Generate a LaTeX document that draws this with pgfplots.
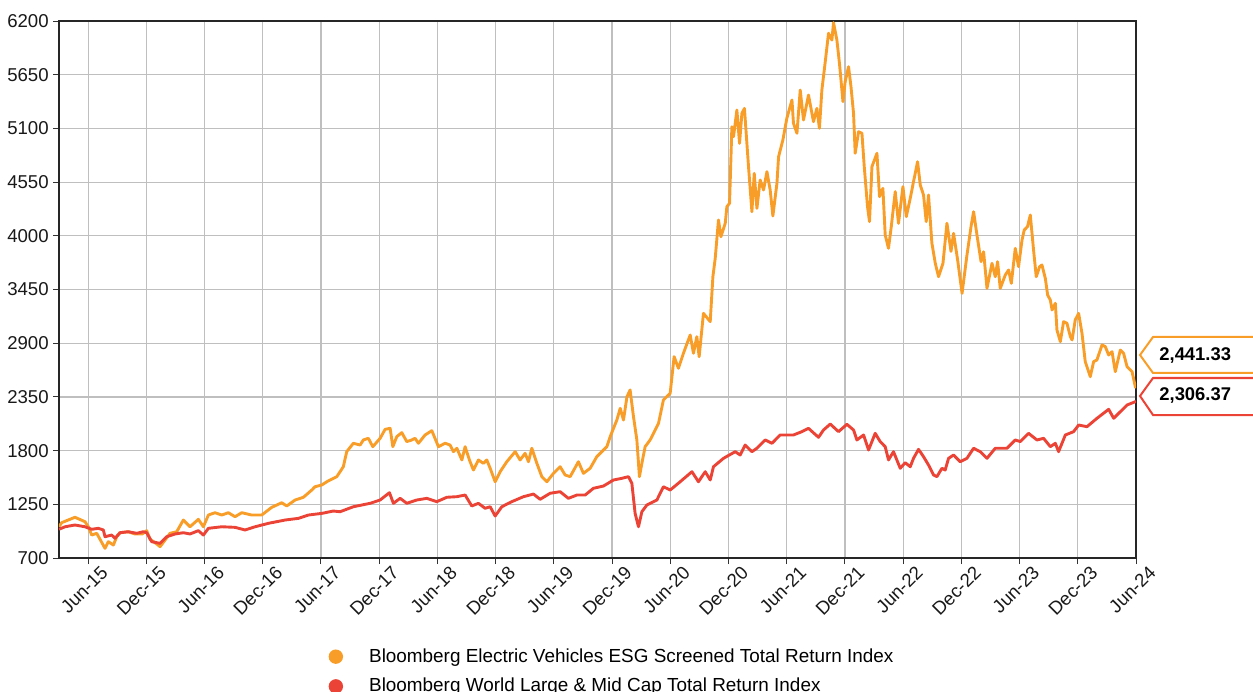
\documentclass[border=0pt]{standalone}
\usepackage{fontspec}
\setmainfont{Liberation Sans}
\usepackage{pgfplots}
\pgfplotsset{compat=1.18}
\definecolor{evorange}{RGB}{248,158,40}
\definecolor{wred}{RGB}{235,68,54}
\begin{document}
\begin{tikzpicture}
\begin{axis}[
  at={(0,0)}, anchor=south west,
  scale only axis, width=538.5pt, height=268.5pt,
  xmin=2015.25, xmax=2024.5, ymin=700, ymax=6200,
  ytick={700,1250,1800,2350,2900,3450,4000,4550,5100,5650,6200},
  xtick={2015.5,2016,2016.5,2017,2017.5,2018,2018.5,2019,2019.5,2020,2020.5,2021,2021.5,2022,2022.5,2023,2023.5,2024,2024.5},
  xticklabels={Jun-15,Dec-15,Jun-16,Dec-16,Jun-17,Dec-17,Jun-18,Dec-18,Jun-19,Dec-19,Jun-20,Dec-20,Jun-21,Dec-21,Jun-22,Dec-22,Jun-23,Dec-23,Jun-24},
  xtick pos=bottom, ytick pos=left,
  /pgf/number format/assume math mode=true,
  /pgf/number format/1000 sep={},
  tick label style={font=\fontsize{9.3pt}{11pt}\selectfont, text=black!90},
  xticklabel style={xshift=9pt, yshift=-2pt, rotate=45, anchor=east, inner sep=1pt},
  yticklabel style={inner sep=2pt},
  tick align=outside, major tick length=3pt,
  tick style={black!80, line width=0.5pt},
  grid=major, major grid style={gray!50, line width=0.6pt},
  axis line style={black!85, line width=0.6pt},
  legend style={draw=none, fill=none, at={(0.25,-0.16)}, anchor=north west,
    font=\fontsize{9.45pt}{11pt}\selectfont, row sep=2.5pt, inner sep=0pt},
  legend cell align=left,
  legend image code/.code={\fill[#1, draw=none] (0.1cm,0cm) circle (3.6pt); \path[draw=none, fill=none] (0,0) -- (17.5pt,0);},
]
\addplot[evorange, line width=1.45pt, line join=round] coordinates {
(2015.250,1020)(2015.273,1062)(2015.387,1117)(2015.473,1072)(2015.502,1020)(2015.531,935)(2015.574,953)(2015.645,799)(2015.674,867)(2015.717,833)(2015.746,918)(2015.774,959)(2015.845,969)(2015.903,946)(2015.966,946)(2016.003,980)(2016.032,892)(2016.075,857)(2016.118,816)(2016.161,884)(2016.204,953)(2016.261,969)(2016.318,1089)(2016.375,1020)(2016.447,1096)(2016.490,1020)(2016.533,1140)(2016.590,1164)(2016.648,1140)(2016.704,1164)(2016.762,1123)(2016.820,1164)(2016.905,1140)(2016.991,1140)(2017.077,1219)(2017.163,1266)(2017.206,1233)(2017.278,1294)(2017.349,1322)(2017.421,1396)(2017.449,1430)(2017.507,1448)(2017.550,1481)(2017.578,1499)(2017.636,1533)(2017.692,1635)(2017.721,1789)(2017.778,1875)(2017.836,1857)(2017.864,1909)(2017.907,1926)(2017.945,1840)(2018.008,1926)(2018.051,2018)(2018.094,2028)(2018.117,1840)(2018.151,1943)(2018.194,1984)(2018.237,1892)(2018.280,1909)(2018.308,1926)(2018.337,1875)(2018.394,1960)(2018.452,2004)(2018.509,1840)(2018.566,1875)(2018.609,1857)(2018.637,1789)(2018.667,1824)(2018.710,1704)(2018.738,1840)(2018.775,1704)(2018.809,1601)(2018.852,1704)(2018.895,1670)(2018.924,1704)(2018.953,1619)(2018.996,1481)(2019.039,1584)(2019.096,1686)(2019.168,1789)(2019.210,1704)(2019.253,1772)(2019.282,1686)(2019.311,1824)(2019.354,1670)(2019.397,1533)(2019.440,1481)(2019.497,1567)(2019.554,1635)(2019.597,1550)(2019.640,1533)(2019.711,1686)(2019.754,1567)(2019.812,1619)(2019.869,1738)(2019.898,1772)(2019.955,1840)(2019.984,1943)(2020.041,2113)(2020.070,2233)(2020.098,2113)(2020.128,2352)(2020.155,2421)(2020.184,2147)(2020.213,1909)(2020.235,1533)(2020.256,1670)(2020.284,1840)(2020.327,1909)(2020.356,1977)(2020.399,2080)(2020.441,2318)(2020.499,2387)(2020.533,2762)(2020.570,2643)(2020.613,2797)(2020.671,2984)(2020.699,2797)(2020.728,2967)(2020.748,2762)(2020.785,3206)(2020.843,3121)(2020.866,3581)(2020.886,3770)(2020.914,4162)(2020.935,3991)(2020.972,4128)(2020.986,4298)(2021.009,4333)(2021.029,5117)(2021.043,5015)(2021.072,5288)(2021.095,4947)(2021.115,5254)(2021.137,5305)(2021.172,4708)(2021.201,4247)(2021.221,4640)(2021.244,4281)(2021.272,4572)(2021.301,4469)(2021.330,4657)(2021.358,4469)(2021.381,4203)(2021.416,4537)(2021.430,4810)(2021.467,4981)(2021.501,5203)(2021.545,5391)(2021.558,5152)(2021.588,5050)(2021.616,5493)(2021.644,5186)(2021.687,5442)(2021.730,5169)(2021.759,5305)(2021.781,5101)(2021.802,5493)(2021.831,5783)(2021.859,6074)(2021.888,6005)(2021.902,6183)(2021.931,6005)(2021.953,5766)(2021.983,5374)(2022.002,5578)(2022.031,5732)(2022.052,5527)(2022.074,5254)(2022.088,4845)(2022.117,5066)(2022.146,5050)(2022.166,4708)(2022.194,4298)(2022.211,4145)(2022.232,4708)(2022.275,4845)(2022.297,4401)(2022.326,4486)(2022.346,4008)(2022.374,3872)(2022.398,4094)(2022.432,4452)(2022.460,4128)(2022.498,4503)(2022.527,4196)(2022.561,4384)(2022.589,4554)(2022.624,4759)(2022.647,4520)(2022.675,4418)(2022.698,4145)(2022.718,4418)(2022.747,3923)(2022.776,3718)(2022.804,3581)(2022.842,3718)(2022.876,4128)(2022.911,3840)(2022.933,4025)(2022.968,3752)(2023.006,3411)(2023.048,3803)(2023.083,4094)(2023.105,4247)(2023.134,4008)(2023.169,3735)(2023.191,3837)(2023.220,3462)(2023.263,3718)(2023.291,3581)(2023.311,3735)(2023.334,3462)(2023.377,3598)(2023.406,3650)(2023.429,3513)(2023.463,3872)(2023.491,3684)(2023.521,3957)(2023.540,4059)(2023.568,4094)(2023.592,4213)(2023.620,3855)(2023.643,3581)(2023.672,3684)(2023.692,3701)(2023.721,3564)(2023.741,3394)(2023.764,3342)(2023.779,3240)(2023.807,3309)(2023.821,3035)(2023.850,2916)(2023.878,3121)(2023.907,3104)(2023.936,2967)(2023.951,2933)(2023.978,3138)(2024.007,3206)(2024.036,3001)(2024.064,2711)(2024.107,2557)(2024.136,2711)(2024.164,2728)(2024.208,2882)(2024.236,2865)(2024.265,2779)(2024.294,2813)(2024.322,2608)(2024.365,2830)(2024.393,2797)(2024.423,2660)(2024.466,2608)(2024.494,2454)(2024.500,2441.33)
};
\addlegendentry{Bloomberg Electric Vehicles ESG Screened Total Return Index}
\addplot[wred, line width=1.45pt, line join=round] coordinates {
(2015.250,994)(2015.302,1020)(2015.387,1038)(2015.473,1020)(2015.531,994)(2015.588,1004)(2015.631,987)(2015.645,918)(2015.703,935)(2015.731,902)(2015.774,959)(2015.845,969)(2015.918,953)(2015.974,969)(2016.003,959)(2016.046,867)(2016.118,850)(2016.175,918)(2016.247,946)(2016.318,959)(2016.375,946)(2016.447,980)(2016.490,935)(2016.533,1004)(2016.648,1020)(2016.762,1014)(2016.848,987)(2016.934,1020)(2017.048,1055)(2017.192,1089)(2017.306,1106)(2017.392,1140)(2017.507,1157)(2017.606,1181)(2017.664,1174)(2017.778,1225)(2017.922,1260)(2018.008,1294)(2018.088,1369)(2018.122,1260)(2018.180,1311)(2018.237,1260)(2018.323,1294)(2018.409,1311)(2018.495,1277)(2018.581,1322)(2018.667,1328)(2018.738,1345)(2018.795,1233)(2018.852,1260)(2018.910,1209)(2018.953,1225)(2018.996,1130)(2019.053,1225)(2019.139,1277)(2019.239,1328)(2019.325,1355)(2019.382,1301)(2019.468,1363)(2019.554,1379)(2019.625,1311)(2019.698,1345)(2019.769,1345)(2019.840,1414)(2019.926,1437)(2020.012,1499)(2020.084,1516)(2020.141,1533)(2020.170,1465)(2020.198,1157)(2020.227,1020)(2020.256,1174)(2020.299,1243)(2020.385,1294)(2020.441,1430)(2020.499,1396)(2020.585,1481)(2020.686,1584)(2020.742,1481)(2020.800,1584)(2020.843,1499)(2020.871,1635)(2020.957,1721)(2021.058,1789)(2021.100,1755)(2021.143,1857)(2021.201,1789)(2021.244,1824)(2021.315,1909)(2021.373,1875)(2021.444,1960)(2021.558,1960)(2021.630,1994)(2021.687,2028)(2021.773,1936)(2021.816,2011)(2021.874,2072)(2021.945,1994)(2022.017,2069)(2022.074,2011)(2022.103,1909)(2022.160,1960)(2022.203,1806)(2022.260,1977)(2022.303,1892)(2022.346,1840)(2022.374,1704)(2022.417,1789)(2022.475,1619)(2022.518,1676)(2022.561,1635)(2022.589,1721)(2022.632,1813)(2022.675,1738)(2022.718,1652)(2022.761,1550)(2022.790,1533)(2022.833,1619)(2022.861,1601)(2022.890,1721)(2022.933,1755)(2022.990,1686)(2023.048,1721)(2023.105,1824)(2023.162,1789)(2023.220,1721)(2023.291,1824)(2023.392,1824)(2023.463,1909)(2023.506,1892)(2023.577,1977)(2023.649,1909)(2023.706,1926)(2023.764,1840)(2023.807,1875)(2023.835,1789)(2023.893,1960)(2023.964,1994)(2024.007,2062)(2024.079,2045)(2024.165,2131)(2024.265,2223)(2024.308,2131)(2024.365,2198)(2024.423,2267)(2024.494,2301)(2024.500,2306.37)
};
\addlegendentry{Bloomberg World Large \& Mid Cap Total Return Index}
\end{axis}
% value callouts
\draw[evorange, line width=1pt, fill=white] (540.5pt,101.5pt) -- (547pt,110.5pt) -- (600pt,110.5pt) -- (600pt,92.5pt) -- (547pt,92.5pt) -- cycle;
\node[anchor=west, inner sep=0pt, font=\fontsize{9.2pt}{11pt}\selectfont\bfseries] at (550pt,101.5pt) {2,441.33};
\draw[wred, line width=1pt, fill=white] (540.5pt,81pt) -- (547pt,90pt) -- (600pt,90pt) -- (600pt,71.5pt) -- (547pt,71.5pt) -- cycle;
\node[anchor=west, inner sep=0pt, font=\fontsize{9.2pt}{11pt}\selectfont\bfseries] at (550pt,81pt) {2,306.37};
\pgfresetboundingbox
\path[use as bounding box] (-29.5pt,-66.5pt) rectangle (597pt,279pt);
\end{tikzpicture}
\end{document}
